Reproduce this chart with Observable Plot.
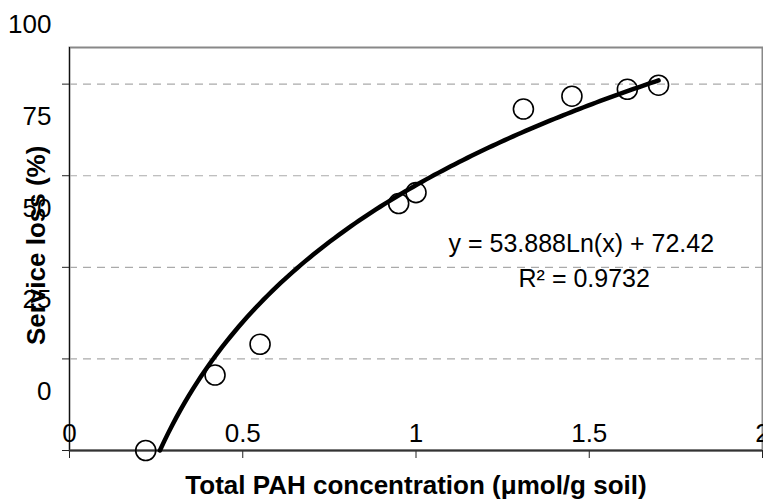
<!DOCTYPE html>
<html>
<head>
<meta charset="utf-8">
<script src="https://cdn.jsdelivr.net/npm/d3@7"></script>
<script src="https://cdn.jsdelivr.net/npm/@observablehq/plot@0.6"></script>
<style>
  html, body { margin: 0; padding: 0; background: #fff; }
  svg { display: block; }
</style>
</head>
<body>
<div id="chart"></div>
<script>
// Observed data (Total PAH concentration, service loss %)
const pahConc = [0.22, 0.42, 0.55, 0.95, 1.00, 1.31, 1.45, 1.61, 1.70];
const serviceLoss = [0, 20.6, 29, 67.4, 70.4, 93.2, 96.7, 98.6, 99.7];

// Trendline coefficients as shown on the chart: y = a*Ln(x) + b
const trendA = 53.888;
const trendB = 72.42;
const trendXEnd = 1.70;

const xTicks = [0, 0.5, 1, 1.5, 2];
const xTickLabels = ["0", "0.5", "1", "1.5", "2"];
const yTicks = [0, 25, 50, 75, 100];
const yTickLabels = ["0", "25", "50", "75", "100"];
const gridValues = [25, 50, 75, 100];

const equationText = "y = 53.888Ln(x) + 72.42";
const r2Text = "R\u00B2 = 0.9732";
const xTitle = "Total PAH concentration (\u03BCmol/g soil)";
const yTitle = "Service loss (%)";

const points = pahConc.map((x, i) => ({x, y: serviceLoss[i]}));
const xStart = Math.exp(-trendB / trendA);
const nSteps = 120;
const trend = d3.range(nSteps + 1).map(i => {
  const x = xStart + (trendXEnd - xStart) * i / nSteps;
  return {x, y: trendA * Math.log(x) + trendB};
});

const font = "Liberation Sans, Arial, sans-serif";

const chart = Plot.plot({
  width: 763,
  height: 499,
  marginLeft: 69,
  marginRight: 1,
  marginTop: 47,
  marginBottom: 49,
  style: {fontFamily: font, background: "#fff", overflow: "visible"},
  x: {domain: [0, 2], axis: null},
  y: {domain: [0, 110], axis: null},
  marks: [
    Plot.frame({stroke: "#888", strokeWidth: 2}),
    Plot.ruleY(gridValues, {stroke: "#aaa", strokeWidth: 1.2, strokeDasharray: "8,6"}),
    Plot.axisY({ticks: yTicks, tickSize: 7, tickFormat: () => "", label: null, stroke: "#222", strokeWidth: 1}),
    Plot.axisX({ticks: xTicks, tickSize: 8, tickFormat: () => "", label: null, stroke: "#222", strokeWidth: 1}),
    Plot.ruleX([0], {stroke: "#111", strokeWidth: 1}),
    Plot.ruleY([0], {stroke: "#333", strokeWidth: 2}),
    // tick labels
    Plot.text(yTicks, {x: () => 0, y: d => d, text: (d, i) => yTickLabels[i], textAnchor: "end", dx: -18, dy: -59, fontSize: 26, fill: "#000"}),
    Plot.text(xTicks, {x: d => d, y: () => 0, text: (d, i) => xTickLabels[i], dy: -17, fontSize: 26, fill: "#000"}),
    // data
    Plot.dot(points, {x: "x", y: "y", r: 10, stroke: "#000", strokeWidth: 1.6, fill: "none"}),
    Plot.line(trend, {x: "x", y: "y", stroke: "#000", strokeWidth: 4.5, curve: "linear"}),
    // equation
    Plot.text([equationText], {x: () => 1.094, y: () => 56.5, text: d => d, textAnchor: "start", fontSize: 25, fill: "#000"}),
    Plot.text([r2Text], {x: () => 1.296, y: () => 46.9, text: d => d, textAnchor: "start", fontSize: 25, fill: "#000"}),
    // titles
    Plot.text([xTitle], {x: () => 1.0, y: () => 0, text: d => d, dy: 35, fontSize: 26, fontWeight: "bold", fill: "#000"}),
    Plot.text([yTitle], {x: () => 0, y: () => 56, text: d => d, dx: -33, rotate: -90, fontSize: 26, fontWeight: "bold", fill: "#000"})
  ]
});
document.getElementById("chart").appendChild(chart);
</script>
</body>
</html>
